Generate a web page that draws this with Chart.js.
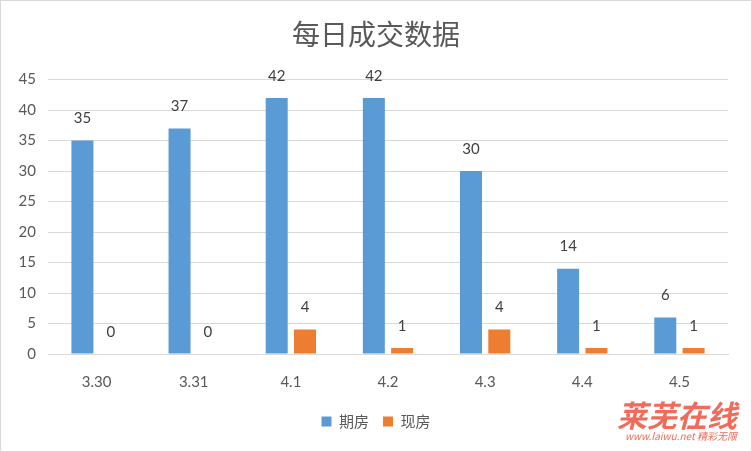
<!DOCTYPE html>
<html>
<head>
<meta charset="utf-8">
<script src="https://cdn.jsdelivr.net/npm/chart.js@4"></script>
<style>
  html, body { margin: 0; padding: 0; background: #fff; }
  #wrap { position: relative; width: 750px; height: 450px; border: 1px solid #d9d9d9; }
  #mark { position: absolute; right: 14px; bottom: 10px; color: #f06b5a; font-family: "Noto Sans CJK SC"; text-align: right; line-height: 1; }
  #mark .big { font-size: 30px; font-weight: bold; font-style: italic; }
  #mark .small { font-size: 10px; font-style: italic; margin-top: 2px; }
</style>
</head>
<body>
<div id="wrap">
  <canvas id="chart" width="750" height="450"></canvas>
  <div id="mark"><div class="big">莱芜在线</div><div class="small">www.laiwu.net 精彩无限</div></div>
</div>
<script>
const categories = ['3.30', '3.31', '4.1', '4.2', '4.3', '4.4', '4.5'];
const futureHomes = [35, 37, 42, 42, 30, 14, 6];
const readyHomes = [0, 0, 4, 1, 4, 1, 1];
const yTicks = [0, 5, 10, 15, 20, 25, 30, 35, 40, 45];

const numFont = 'Lato, "Noto Sans CJK SC", sans-serif';
const cjkFont = '"Noto Sans CJK SC", sans-serif';

// Draw the value above each bar, like Excel's outside-end labels
const valueLabels = {
    id: 'valueLabels',
    afterDatasetsDraw(chart) {
        const ctx = chart.ctx;
        ctx.save();
        ctx.font = '15px ' + numFont;
        ctx.fillStyle = '#404040';
        ctx.textAlign = 'center';
        ctx.textBaseline = 'middle';
        chart.data.datasets.forEach((ds, i) => {
            chart.getDatasetMeta(i).data.forEach((bar, j) => {
                ctx.fillText(ds.data[j], bar.x, bar.y - 22);
            });
        });
        ctx.restore();
    }
};

new Chart(document.getElementById('chart'), {
    type: 'bar',
    data: {
        labels: categories,
        datasets: [
            { label: '期房', data: futureHomes, backgroundColor: '#5B9BD5' },
            { label: '现房', data: readyHomes, backgroundColor: '#ED7D31' }
        ]
    },
    options: {
        responsive: false,
        animation: false,
        layout: { padding: { left: 0, right: 0, top: 0, bottom: 12 } },
        datasets: { bar: { categoryPercentage: 0.583, barPercentage: 0.777 } },
        plugins: {
            title: {
                display: true,
                text: '每日成交数据',
                color: '#595959',
                font: { family: cjkFont, size: 28, weight: 'normal' },
                padding: { top: 17, bottom: 28 }
            },
            legend: {
                position: 'bottom',
                labels: {
                    color: '#595959',
                    font: { family: cjkFont, size: 15 },
                    boxWidth: 10,
                    boxHeight: 10,
                    padding: 14
                }
            },
            tooltip: { enabled: false }
        },
        scales: {
            x: {
                grid: { display: false },
                border: { color: '#d9d9d9' },
                ticks: { color: '#595959', font: { family: numFont, size: 15 }, padding: 11 },
                afterFit: s => { s.height = 46; }
            },
            y: {
                min: 0,
                max: 45,
                afterBuildTicks: s => { s.ticks = yTicks.map(v => ({ value: v })); },
                grid: { color: '#d9d9d9', drawTicks: false },
                border: { display: false },
                ticks: { color: '#595959', font: { family: numFont, size: 15 }, padding: 12 },
                afterFit: s => { s.width = 47; }
            },
            // empty right axis, only keeps the right margin so title and legend stay centred
            yRight: {
                position: 'right',
                min: 0,
                max: 45,
                grid: { display: false },
                border: { display: false },
                ticks: { display: false },
                afterFit: s => { s.width = 23; }
            }
        }
    },
    plugins: [valueLabels]
});
</script>
</body>
</html>
